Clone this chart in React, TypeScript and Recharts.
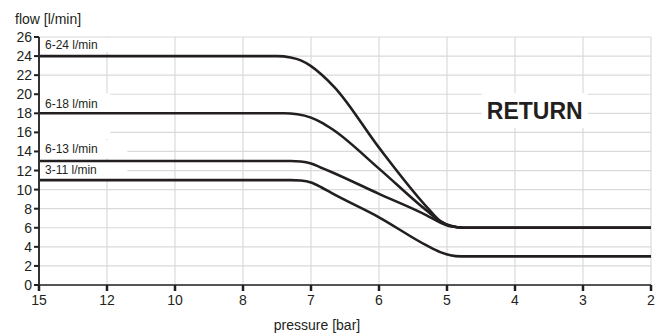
import {
  LineChart,
  Line,
  XAxis,
  YAxis,
  CartesianGrid,
  ReferenceArea,
  Label,
} from "recharts";

// pressure ticks are evenly spaced, so x is a tick index 0..9
const pressureLabels = ["15", "12", "10", "8", "7", "6", "5", "4", "3", "2"];
const pressureTicks = [0, 1, 2, 3, 4, 5, 6, 7, 8, 9];
const flowTicks = [0, 2, 4, 6, 8, 10, 12, 14, 16, 18, 20, 22, 24, 26];

const pos24 = [0, 3.5, 3.7, 3.85, 4.0, 4.15, 4.35, 5, 5.7, 5.9, 6.05, 6.25, 9];
const flow24 = [24, 24, 23.85, 23.55, 22.95, 22.1, 20.7, 14.4, 8.2, 6.7, 6.2, 6, 6];

const pos18 = [0, 3.6, 3.8, 4.0, 4.15, 4.32, 5, 5.7, 5.9, 6.05, 6.25, 9];
const flow18 = [18, 18, 17.9, 17.55, 17.05, 16.3, 12.2, 7.8, 6.7, 6.2, 6, 6];

const pos13 = [0, 3.7, 3.85, 4.0, 4.15, 4.3, 5, 5.7, 5.9, 6.05, 6.25, 9];
const flow13 = [13, 13, 12.95, 12.75, 12.3, 11.85, 9.55, 7.3, 6.55, 6.15, 6, 6];

const pos11 = [0, 3.7, 3.85, 4.0, 4.15, 4.3, 5, 5.7, 5.9, 6.05, 6.2, 9];
const flow11 = [11, 11, 10.95, 10.75, 10.25, 9.65, 7.1, 4.15, 3.45, 3.12, 3, 3];

const zip = (p: number[], f: number[]) => p.map((x, i) => ({ x, flow: f[i] }));

const curves = [
  { key: "c24", data: zip(pos24, flow24) },
  { key: "c18", data: zip(pos18, flow18) },
  { key: "c13", data: zip(pos13, flow13) },
  { key: "c11", data: zip(pos11, flow11) },
];

const font = "'Liberation Sans', Arial, sans-serif";
const ink = "#231f20";

export default function App() {
  return (
    <div style={{ width: 667, height: 335, fontFamily: font }}>
      <style>{`body{margin:0}`}</style>
      <LineChart
        width={667}
        height={335}
        margin={{ top: 37, right: 16, left: 0, bottom: 0 }}
      >
        <CartesianGrid stroke="#dadada" strokeWidth={1.2} />
        <XAxis
          dataKey="x"
          type="number"
          domain={[0, 9]}
          ticks={pressureTicks}
          interval={0}
          tickFormatter={(v) => pressureLabels[v]}
          height={50}
          tickSize={6}
          tickMargin={4}
          stroke="#555"
          strokeWidth={2}
          tickLine={{ stroke: ink, strokeWidth: 2.5 }}
          tick={{ fill: ink, fontSize: 14, fontFamily: font }}
        >
          <Label
            value="pressure [bar]"
            position="insideBottom"
            offset={5}
            dx={-28}
            style={{ fill: ink, fontSize: 14, fontFamily: font }}
          />
        </XAxis>
        <YAxis
          type="number"
          domain={[0, 26]}
          ticks={flowTicks}
          interval={0}
          width={39}
          tickSize={5}
          tickMargin={2}
          stroke="#333"
          strokeWidth={2}
          tickLine={{ stroke: ink, strokeWidth: 2 }}
          tick={{ fill: ink, fontSize: 14, fontFamily: font }}
          label={{
            content: () => (
              <text x={15} y={24} fill={ink} fontSize={14} fontFamily={font}>
                flow [l/min]
              </text>
            ),
          }}
        />

        {/* white boxes behind the labels hide the grid, as in the original */}
        <ReferenceArea
          x1={0}
          x2={1.05}
          y1={24.4}
          y2={25.9}
          fill="#fff"
          fillOpacity={1}
          stroke="none"
          label={{ value: "6-24 l/min", position: "insideLeft", offset: 6, fill: ink, fontSize: 12, fontFamily: font }}
        />
        <ReferenceArea
          x1={0}
          x2={1.05}
          y1={15.3}
          y2={20.1}
          fill="#fff"
          fillOpacity={1}
          stroke="none"
          label={{ value: "6-18 l/min", position: "insideTopLeft", offset: 6, fill: ink, fontSize: 12, fontFamily: font }}
        />
        <ReferenceArea
          x1={0}
          x2={1.3}
          y1={13.3}
          y2={15.2}
          fill="#fff"
          fillOpacity={1}
          stroke="none"
          label={{ value: "6-13 l/min", position: "insideLeft", offset: 6, fill: ink, fontSize: 12, fontFamily: font }}
        />
        <ReferenceArea
          x1={0}
          x2={1.3}
          y1={11.1}
          y2={13.0}
          fill="#fff"
          fillOpacity={1}
          stroke="none"
          label={{ value: "3-11 l/min", position: "insideLeft", offset: 6, fill: ink, fontSize: 12, fontFamily: font }}
        />
        <ReferenceArea
          x1={6.51}
          x2={8.07}
          y1={16.45}
          y2={20.1}
          fill="#fff"
          fillOpacity={1}
          stroke="none"
          label={{ value: "RETURN", position: "center", fill: ink, fontSize: 23, fontWeight: "bold", fontFamily: font }}
        />

        {curves.map((c) => (
          <Line
            key={c.key}
            data={c.data}
            dataKey="flow"
            type="monotone"
            stroke={ink}
            strokeWidth={2.6}
            dot={false}
            activeDot={false}
            isAnimationActive={false}
          />
        ))}
      </LineChart>
    </div>
  );
}
